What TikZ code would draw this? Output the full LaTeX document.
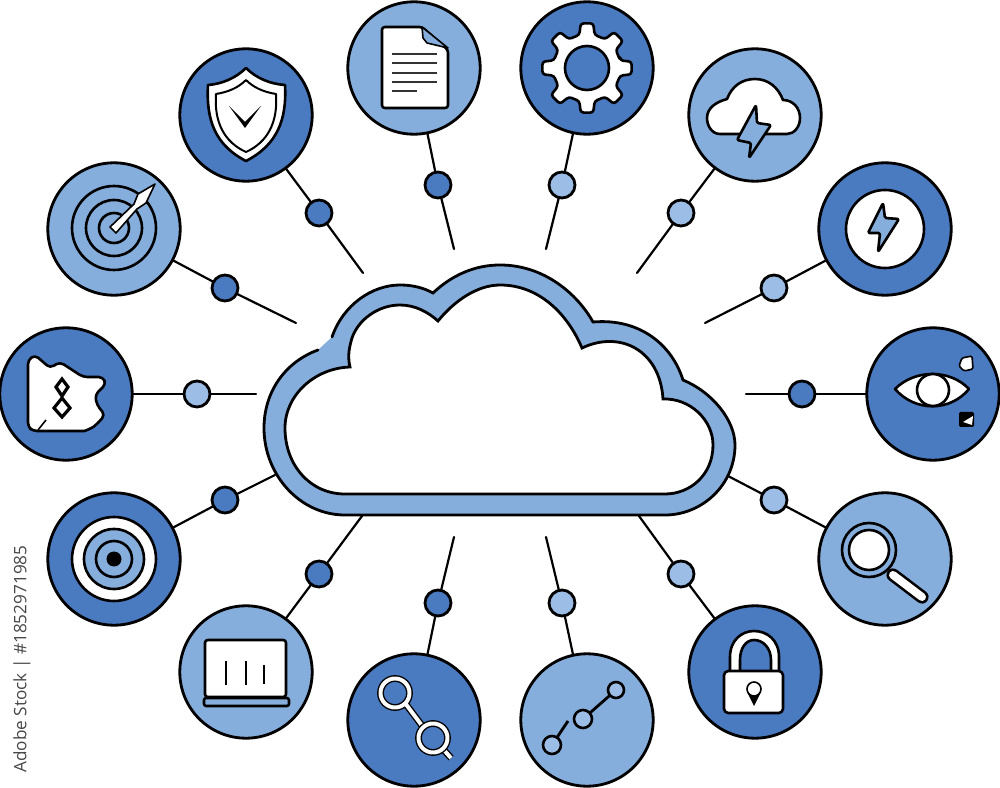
\documentclass[tikz,border=0pt]{standalone}
\usepackage{fontspec}
\newfontfamily\stockfont{Open Sans}
\usetikzlibrary{calc,positioning}
\definecolor{hubdark}{HTML}{4A7ABF}
\definecolor{hublight}{HTML}{86AEDC}
\definecolor{hubpale}{HTML}{9CBEE6}
% outer rim of the big cloud, left open at the small gap
\newcommand{\cloudrim}{(332,337) .. controls (343,305) and (372,285) .. (400,285)
	.. controls (413,285) and (424,288) .. (433,293)
	.. controls (452,275) and (475,265) .. (500,265)
	.. controls (545,265) and (578,295) .. (593,322)
	.. controls (640,318) and (672,345) .. (683,380)
	.. controls (712,392) and (735,420) .. (735,445)
	.. controls (735,485) and (702,515) .. (665,515)
	-- (345,515)
	.. controls (300,515) and (264,475) .. (264,428)
	.. controls (264,392) and (285,362) .. (318,350)}

\begin{document}
\begin{tikzpicture}[
    x=.25mm, y=-.25mm,
    line join=round,
    darkdisc/.style  = {draw, circle, fill = hubdark, line width = .7mm, minimum size = 33.1mm, inner sep = 0pt, outer sep = 0pt},
    lightdisc/.style = {darkdisc, fill = hublight},
    darkdot/.style   = {draw, circle, fill = hubdark, line width = .7mm, minimum size = 6.5mm, inner sep = 0pt, outer sep = 0pt},
    lightdot/.style  = {darkdot, fill = hubpale},
    spoke/.style     = {line width = .55mm, line cap = round},
    icon/.style      = {draw, fill = white, line width = .65mm},
    thinline/.style  = {line width = .4mm},
    ringline/.style  = {draw, line width = .35mm, double = white, double distance = 1mm},
  ]
	\useasboundingbox (0,0) rectangle (1000,788);
	
	% Wolke
	\fill[hublight] \cloudrim;
	\draw[line width = .7mm, line cap = round, line join = miter] \cloudrim;
	\draw[fill = white, line width = .7mm, line join = miter] (285,428) .. controls (285,395) and (315,368) .. (350,367)
		.. controls (347,355) and (350,345) .. (352,338)
		.. controls (358,320) and (378,305) .. (400,305)
		.. controls (415,305) and (428,312) .. (438,321)
		.. controls (455,300) and (478,285) .. (500,285)
		.. controls (540,285) and (568,315) .. (582,348)
		.. controls (620,330) and (660,350) .. (663,399)
		.. controls (690,398) and (713,420) .. (713,445)
		.. controls (713,475) and (690,494) .. (665,494)
		-- (345,494)
		.. controls (310,494) and (285,465) .. (285,428) -- cycle;
	
	% Scheiben
	\node (Shield) at (246,115) [darkdisc]{};
	\node (Paper)  at (414,68)  [lightdisc]{};
	\node (Gear)   at (587,68)  [darkdisc]{};
	\node (Storm)  at (755,115) [lightdisc]{};
	\node (Flash)  at (885,229) [darkdisc]{};
	\node (Eye)    at (933,394) [darkdisc]{};
	\node (Lens)   at (885,559) [lightdisc]{};
	\node (Lock)   at (755,672) [darkdisc]{};
	\node (Graph)  at (587,720) [lightdisc]{};
	\node (Links)  at (414,720) [darkdisc]{};
	\node (Laptop) at (246,672) [lightdisc]{};
	\node (Bull)   at (114,559) [darkdisc]{};
	\node (Piece)  at (66,394)  [darkdisc]{};
	\node (Dart)   at (114,229) [lightdisc]{};
	
	% Punkte
	\node (DShield) at (319,213) [darkdot]{};
	\node (DPaper)  at (438,185) [darkdot]{};
	\node (DGear)   at (562,185) [lightdot]{};
	\node (DStorm)  at (681,213) [lightdot]{};
	\node (DFlash)  at (774,288) [lightdot]{};
	\node (DEye)    at (802,394) [darkdot]{};
	\node (DLens)   at (774,500) [lightdot]{};
	\node (DLock)   at (681,574) [lightdot]{};
	\node (DGraph)  at (562,603) [lightdot]{};
	\node (DLinks)  at (438,603) [darkdot]{};
	\node (DLaptop) at (319,574) [darkdot]{};
	\node (DBull)   at (225,500) [darkdot]{};
	\node (DPiece)  at (197,394) [lightdot]{};
	\node (DDart)   at (225,288) [darkdot]{};
	
	% freie Enden
	\coordinate (EShield) at (363,273);
	\coordinate (EPaper)  at (454,249);
	\coordinate (EGear)   at (546,249);
	\coordinate (EStorm)  at (637,273);
	\coordinate (EFlash)  at (705,323);
	\coordinate (EEye)    at (746,394);
	\coordinate (ELens)   at (728,476);
	\coordinate (ELock)   at (639,516);
	\coordinate (EGraph)  at (546,537);
	\coordinate (ELinks)  at (454,537);
	\coordinate (ELaptop) at (362,516);
	\coordinate (EBull)   at (275,475);
	\coordinate (EPiece)  at (256,394);
	\coordinate (EDart)   at (296,323);
	
	% Verbindungen
	\draw[spoke] (Shield) -- (DShield) -- (EShield);
	\draw[spoke] (Paper) -- (DPaper) -- (EPaper);
	\draw[spoke] (Gear) -- (DGear) -- (EGear);
	\draw[spoke] (Storm) -- (DStorm) -- (EStorm);
	\draw[spoke] (Flash) -- (DFlash) -- (EFlash);
	\draw[spoke] (Eye) -- (DEye) -- (EEye);
	\draw[spoke] (Lens) -- (DLens) -- (ELens);
	\draw[spoke] (Lock) -- (DLock) -- (ELock);
	\draw[spoke] (Graph) -- (DGraph) -- (EGraph);
	\draw[spoke] (Links) -- (DLinks) -- (ELinks);
	\draw[spoke] (Laptop) -- (DLaptop) -- (ELaptop);
	\draw[spoke] (Bull) -- (DBull) -- (EBull);
	\draw[spoke] (Piece) -- (DPiece) -- (EPiece);
	\draw[spoke] (Dart) -- (DDart) -- (EDart);
	
	% Schild
	\draw[icon] (246,68) .. controls (236,78) and (222,84) .. (208,85) .. controls (206,120) and (215,145) .. (246,161)
		.. controls (277,145) and (287,120) .. (285,85) .. controls (270,84) and (256,78) .. (246,68) -- cycle;
	\draw[icon, line width = .5mm] (246,80) .. controls (238,88) and (228,92) .. (216,94) .. controls (214,122) and (224,142) .. (246,152)
		.. controls (268,142) and (278,122) .. (276,94) .. controls (264,92) and (254,88) .. (246,80) -- cycle;
	\fill (229,106) -- (245,122) -- (261,106) -- (245,128) -- cycle;
	
	% Dokument
	\draw[icon, rounded corners = 2pt] (382,27) -- (422,27) -- (448,50) -- (448,108) -- (382,108) -- cycle;
	\draw[icon, fill = hublight, thinline] (422,27) -- (423,38) -- (427,43) -- (448,48) -- cycle;
	\draw[thinline, black!80] (392,54) -- (437,54) (392,63) -- (437,63) (392,73) -- (437,73) (392,82) -- (437,82) (392,91) -- (417,91);
	
	% Zahnrad
	\begin{scope}[shift={(587,68)}]
		\draw[icon, rounded corners = 2pt] (-13:34) \foreach \a in {0,45,...,315} { -- ({\a-13}:34) -- ({\a-8}:45) -- ({\a+8}:45) -- ({\a+13}:34) } -- cycle;
		\draw[icon, fill = hubdark] (0,0) circle (22);
	\end{scope}
	
	% Gewitterwolke
	\draw[icon] (720,134) .. controls (712,134) and (707,126) .. (707,118) .. controls (707,108) and (716,102) .. (727,99)
		.. controls (732,86) and (742,79) .. (755,79) .. controls (768,79) and (778,87) .. (783,100)
		.. controls (793,100) and (800,108) .. (800,118) .. controls (800,127) and (794,134) .. (787,134) -- cycle;
	\draw[icon, fill = hublight, rounded corners = 1pt] (756,105) -- (737,140) -- (751,143) -- (749,158) -- (771,125) -- (757,123) -- cycle;
	
	% Blitz
	\draw[icon] (885,229) circle (39);
	\draw[icon, fill = hublight, rounded corners = 1pt] (883,203) -- (868,233) -- (880,233) -- (878,252) -- (899,219) -- (885,218) -- cycle;
	
	% Auge
	\draw[icon] (895,389) .. controls (915,369) and (950,369) .. (969,389) .. controls (950,412) and (915,412) .. (895,389) -- cycle;
	\draw[icon] (933,390) circle (16);
	\draw[icon, thinline, rounded corners = 1pt] (962,358) -- (972,356) -- (973,369) -- (964,371) -- (959,366) -- cycle;
	\fill[rounded corners = 1pt] (959,412) -- (974,412) -- (974,427) -- (959,427) -- cycle;
	\fill[white] (963,422) -- (973,416) -- (972,425) -- cycle;
	
	% Lupe
	\draw[line width = .65mm, double = white, double distance = 2mm, line cap = round] (893,575) -- (922,597);
	\draw[icon, fill = hublight] (869,550) circle (27);
	\draw[icon] (869,550) circle (20);
	
	% Schloss
	\draw[icon] (730,672) -- (730,657) .. controls (730,640) and (742,631) .. (754,631) .. controls (767,631) and (779,640) .. (779,657) -- (779,672) -- cycle;
	\draw[icon, fill = hubdark] (740,672) -- (740,660) .. controls (740,648) and (746,640) .. (754,640) .. controls (763,640) and (771,648) .. (771,660) -- (771,672) -- cycle;
	\draw[icon, rounded corners = 3pt] (724,671) rectangle (783,713);
	\fill (747,692) -- (754,706) -- (761,692) -- cycle;
	\draw[icon, thinline] (754,689) circle (7);
	
	% Kurve
	\draw[line width = .7mm] (616,690) -- (583,719) (568,721) -- (552,745);
	\draw[icon, fill = hubpale] (616,690) circle (8);
	\draw[icon, fill = hubpale] (583,719) circle (9);
	\draw[icon, fill = hubpale] (552,745) circle (9);
	
	% Kette
	\draw[ringline] (395,693) circle (14.5) (405,703) -- (423,727) (443,749) -- (451,758);
	\draw[ringline] (433,738) circle (14.5);
	
	% Laptop
	\draw[icon, rounded corners = 2pt] (205,640) rectangle (286,697);
	\draw[icon, fill = hublight, rounded corners = 1.5pt] (204,698) rectangle (289,706);
	\draw[thinline] (226,661) -- (226,685) (246,661) -- (246,685) (264,665) -- (264,684);
	
	% Scheibe unten links
	\draw[icon] (114,559) circle (42);
	\draw[icon, fill = hublight] (114,559) circle (30);
	\draw[icon, fill = hublight] (114,559) circle (18);
	\fill (114,559) circle (7.5);
	
	% Ziel
	\draw[icon, fill = hublight] (114,228) circle (42);
	\draw[icon, fill = hublight] (114,228) circle (28);
	\draw[icon, fill = hublight] (114,228) circle (15);
	\draw[icon, thinline] (110,227) -- (134,204) -- (138,194) -- (155,184) -- (146,203) -- (137,209) -- (116,233) -- cycle;
	
	% Puzzleteil
	\draw[icon, rounded corners = 3pt] (28,360) -- (35,355) -- (50,368) -- (60,362) -- (83,377) -- (103,377) -- (106,384) -- (95,395) -- (97,405) -- (105,415) -- (97,424)
		.. controls (92,428) and (85,431) .. (80,431) -- (33,431) -- (28,427) -- cycle;
	\draw[thinline] (46,420) -- (38,430);
	\draw[icon, line width = .8mm, line join = miter] (62,379) -- (68,387) -- (62,396) -- (56,387) -- cycle;
	\draw[icon, line width = .8mm, line join = miter] (62,398) -- (70,408) -- (62,417) -- (54,408) -- cycle;
	
	% Randtext
	\node (Credit) at (22,659) [rotate = 90, text = black!72, font = \stockfont\fontsize{12.2}{14}\selectfont, inner sep = 0pt]{Adobe Stock | \#1852971985};
	
\end{tikzpicture}
\end{document}
